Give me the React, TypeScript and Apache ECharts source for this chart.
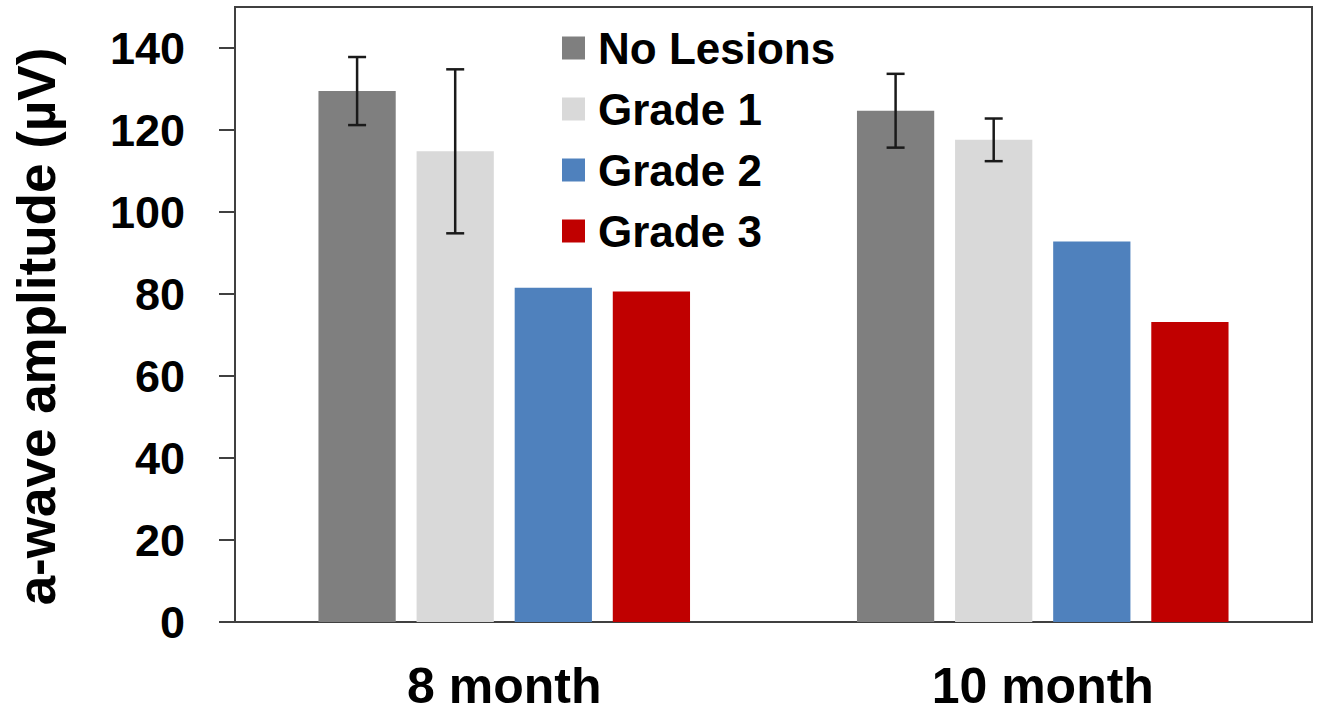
import React, { useEffect, useRef } from "react";
import * as echarts from "echarts";

const categories = ["8 month", "10 month"];
const seriesNames = ["No Lesions", "Grade 1", "Grade 2", "Grade 3"];
const colors = ["#7f7f7f", "#d9d9d9", "#4f81bd", "#c00000"];
const noLesions = [129.5, 124.7];
const grade1 = [114.8, 117.6];
const grade2 = [81.5, 92.8];
const grade3 = [80.6, 73.2];
const noLesionsErr = [8.3, 9.0];
const grade1Err = [20.0, 5.2];
const grade2Err = [null, null];
const grade3Err = [null, null];
const yTicks = [0, 20, 40, 60, 80, 100, 120, 140];

const values = [noLesions, grade1, grade2, grade3];
const errors = [noLesionsErr, grade1Err, grade2Err, grade3Err];

const CAT_GAP = 0.31;
const BAR_GAP = 0.27;
const FONT = "'Liberation Sans', Arial, sans-serif";

export default function App() {
  const ref = useRef<HTMLDivElement>(null);
  useEffect(() => {
    if (!ref.current) return;
    const chart = echarts.init(ref.current, null, { renderer: "svg" });
    const errData: any[] = [];
    errors.forEach((errs, si) => {
      errs.forEach((e, ci) => {
        if (e != null) errData.push([ci, values[si][ci], e, si]);
      });
    });
    const barSeries = seriesNames.map((name, i) => ({
      name,
      type: "bar",
      data: values[i],
      itemStyle: { color: colors[i] },
      barCategoryGap: `${CAT_GAP * 100}%`,
      barGap: `${BAR_GAP * 100}%`,
    }));
    const option: any = {
      animation: false,
      backgroundColor: "#ffffff",
      textStyle: { fontFamily: FONT },
      grid: {
        left: 235,
        right: 10,
        top: 7,
        bottom: 93,
        show: true,
        borderColor: "#404040",
        borderWidth: 2,
      },
      legend: {
        orient: "vertical",
        left: 557,
        top: 21,
        itemWidth: 23,
        itemHeight: 23,
        itemGap: 17,
        icon: "rect",
        data: seriesNames,
        textStyle: {
          fontFamily: FONT,
          fontSize: 44,
          fontWeight: "bold",
          color: "#000",
          padding: [0, 0, 0, 8],
        },
      },
      xAxis: {
        type: "category",
        data: categories,
        axisLine: { lineStyle: { color: "#404040", width: 2 } },
        axisTick: { show: false },
        axisLabel: {
          fontFamily: FONT,
          fontSize: 50,
          fontWeight: "bold",
          color: "#000",
          margin: 39,
        },
      },
      yAxis: {
        type: "value",
        min: 0,
        max: 150,
        interval: 10,
        name: "a-wave amplitude (µV)",
        nameLocation: "middle",
        nameGap: 172,
        nameTextStyle: {
          fontFamily: FONT,
          fontSize: 53,
          fontWeight: "bold",
          color: "#000",
          padding: [0, 24, 0, 0],
        },
        splitLine: { show: false },
        axisLine: { show: true, lineStyle: { color: "#404040", width: 2 } },
        axisTick: {
          show: true,
          length: 16,
          customValues: yTicks,
          lineStyle: { color: "#404040", width: 2 },
        },
        axisLabel: {
          customValues: yTicks,
          fontFamily: FONT,
          fontSize: 45,
          fontWeight: "bold",
          color: "#000",
          margin: 50,
        },
      },
      series: [
        ...barSeries,
        {
          type: "custom",
          name: "errors",
          z: 10,
          data: errData,
          renderItem: (params: any, api: any) => {
            const ci = api.value(0);
            const v = api.value(1);
            const e = api.value(2);
            const si = api.value(3);
            const band = api.size([1, 0])[0];
            const total = band * (1 - CAT_GAP);
            const n = seriesNames.length;
            const bw = total / (n + (n - 1) * BAR_GAP);
            const center = api.coord([ci, 0])[0];
            const x = center - total / 2 + si * bw * (1 + BAR_GAP) + bw / 2;
            const yTop = api.coord([ci, v + e])[1];
            const yBot = api.coord([ci, v - e])[1];
            const cap = 9;
            const style = { stroke: "#1a1a1a", lineWidth: 2.5 };
            return {
              type: "group",
              children: [
                { type: "line", shape: { x1: x, y1: yTop, x2: x, y2: yBot }, style },
                { type: "line", shape: { x1: x - cap, y1: yTop, x2: x + cap, y2: yTop }, style },
                { type: "line", shape: { x1: x - cap, y1: yBot, x2: x + cap, y2: yBot }, style },
              ],
            };
          },
        },
      ],
    };
    chart.setOption(option);
    return () => chart.dispose();
  }, []);
  return (
    <div
      ref={ref}
      style={{ position: "absolute", left: 0, top: 0, width: 1322, height: 715 }}
    />
  );
}
